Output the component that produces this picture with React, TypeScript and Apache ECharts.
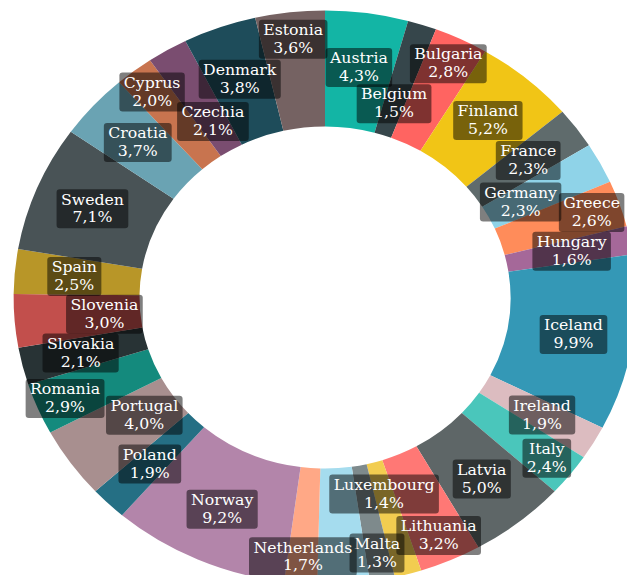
import React, { useEffect, useRef } from 'react';
import * as echarts from 'echarts';

// Slice order (clockwise from 12 o'clock), as in the reference
const countries = [
  'Austria', 'Belgium', 'Bulgaria', 'Finland', 'France', 'Germany', 'Greece',
  'Hungary', 'Iceland', 'Ireland', 'Italy', 'Latvia', 'Lithuania', 'Luxembourg',
  'Malta', 'Liechtenstein', 'Netherlands', 'Norway', 'Poland', 'Portugal',
  'Romania', 'Slovakia', 'Slovenia', 'Spain', 'Sweden', 'Croatia', 'Cyprus',
  'Czechia', 'Denmark', 'Estonia',
];
const shares = [
  4.3, 1.5, 2.8, 5.2, 2.3, 2.3, 2.6,
  1.6, 9.9, 1.9, 2.4, 5.0, 3.2, 1.4,
  1.3, 2.7, 1.7, 9.2, 1.9, 4.0,
  2.9, 2.1, 3.0, 2.5, 7.1, 3.7, 2.0,
  2.1, 3.8, 3.6,
];
// slice whose label is not shown in the reference
const unlabeled = ['Liechtenstein'];
// which band of the ring each label sits in, to keep neighbours apart:
// -1 = inner band, 0 = middle, 1 = outer band
const labelBand = [
  0, -1, 1, 0, 0, -1, 1,
  0, 0, 0, 1, 0, 1, -1,
  1, -1, 1, 0, 0, -1,
  1, 0, -1, 0, 0, 0, 1,
  -1, 0, 1,
];

const sliceColors = [
  '#13b5a5', '#36464b', '#ff6461', '#f1c516', '#5f6b6c', '#8fd3e8', '#ff8c5a',
  '#a56899', '#3498b6', '#dcbcc0', '#4ac6bb', '#5e6667', '#ff7875', '#f2cd50',
  '#7e8a8c', '#a5dcee', '#ffa886', '#b385aa', '#256f84', '#a88f8f',
  '#148a7d', '#283335', '#c24f4c', '#b89628', '#495356', '#6aa3b3', '#c8744f',
  '#7a4d70', '#1e4c5a', '#756262',
];

const STRETCH = 1.085;
const W = Math.round(627 / STRETCH);
const H = 575;
const CX = 325 / STRETCH;
const CY = 297.5;
const R_IN = 171;
const R_OUT = 287;
const SHIFT = 28;

const fmt = (v: number) => v.toFixed(1).replace('.', ',') + '%';

export default function App() {
  const ref = useRef<HTMLDivElement>(null);

  useEffect(() => {
    document.body.style.overflow = 'hidden';
    const el = ref.current!;
    const chart = echarts.init(el, null, { renderer: 'svg' });

    const data = countries.map((n, i) => ({
      name: n,
      value: shares[i],
      itemStyle: { color: sliceColors[i] },
      label: unlabeled.includes(n) ? { show: false } : undefined,
    }));

    chart.setOption({
      animation: false,
      series: [
        {
          type: 'pie',
          center: [CX, CY],
          radius: [R_IN, R_OUT],
          startAngle: 90,
          clockwise: true,
          avoidLabelOverlap: false,
          itemStyle: { borderWidth: 0 },
          emphasis: { disabled: true },
          labelLine: { show: false },
          label: {
            show: true,
            position: 'inside',
            formatter: (p: any) => `${p.name}\n${fmt(p.value)}`,
            color: '#ffffff',
            fontFamily: 'DejaVu Serif',
            fontSize: 14.5,
            lineHeight: 18,
            backgroundColor: 'rgba(0,0,0,0.5)',
            borderRadius: 3,
            padding: [2, 4, 1, 4],
          },
          labelLayout: (p: any) => {
            const band = labelBand[p.dataIndex] || 0;
            if (!band) return {};
            const r = p.labelRect;
            const cx = r.x + r.width / 2;
            const cy = r.y + r.height / 2;
            const len = Math.hypot(cx - CX, cy - CY) || 1;
            return {
              dx: ((cx - CX) / len) * SHIFT * band,
              dy: ((cy - CY) / len) * SHIFT * band,
            };
          },
          data,
        },
      ],
    });

    return () => chart.dispose();
  }, []);

  return (
    <div
      ref={ref}
      style={{
        position: 'absolute',
        left: 0,
        top: 0,
        width: W,
        height: H,
        transform: `scaleX(${STRETCH})`,
        transformOrigin: '0 0',
      }}
    />
  );
}
